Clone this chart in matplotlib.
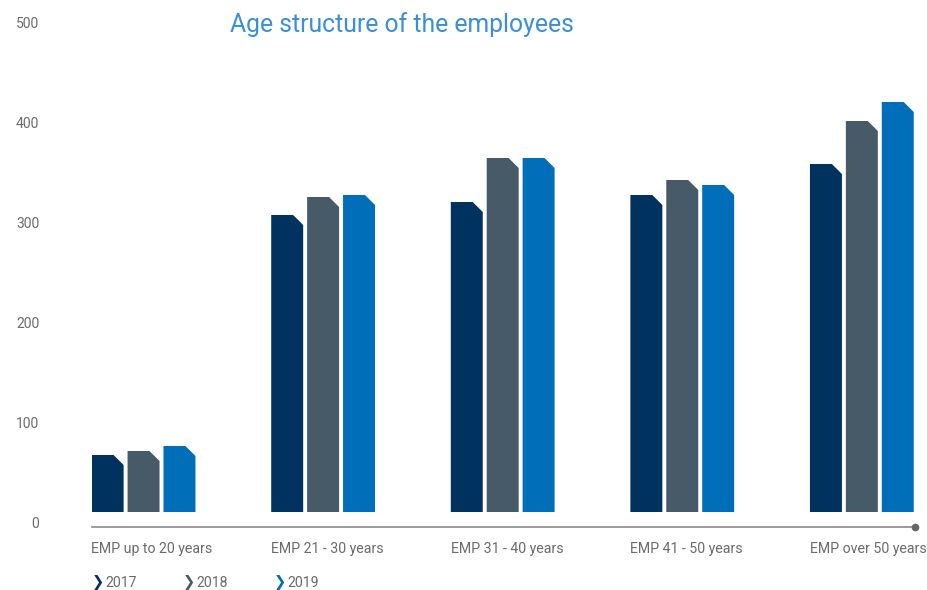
import matplotlib
matplotlib.use("Agg")
import matplotlib.pyplot as plt
import matplotlib.transforms as mtransforms

plt.rcParams["font.family"] = ["Roboto", "DejaVu Sans"]

# ── Data ─────────────────────────────────────────────
categories = ["EMP up to 20 years", "EMP 21 - 30 years", "EMP 31 - 40 years",
              "EMP 41 - 50 years", "EMP over 50 years"]
years = ["2017", "2018", "2019"]
emp_2017 = [57, 297, 310, 317, 348]
emp_2018 = [61, 315, 354, 332, 391]
emp_2019 = [66, 317, 354, 327, 410]
y_ticks = [0, 100, 200, 300, 400, 500]

COLORS = ["#00325f", "#465a68", "#006eb8"]
TITLE_COLOR = "#3a8fd6"
TEXT_GRAY = "#6b6b6b"

W, H = 928, 590
fig = plt.figure(figsize=(W / 100, H / 100), dpi=100)

# axes box laid out in pixels: x 92..915, y 12..512 (top..bottom)
ax = fig.add_axes([92 / W, (H - 512) / H, (915 - 92) / W, 500 / H])
ax.set_ylim(0, 500)
x_min, x_max = -0.287, 4.296
ax.set_xlim(x_min, x_max)
for s in ax.spines.values():
    s.set_visible(False)
ax.set_xticks([])

# ── Bars with a clipped top-right corner ───────────
bar_w = 0.178
pitch = 0.2
cut_x = 0.056
cut_y = 10
series = [emp_2017, emp_2018, emp_2019]
for k, (vals, color) in enumerate(zip(series, COLORS)):
    for i, v in enumerate(vals):
        left = i + (k - 1) * pitch - bar_w / 2
        right = left + bar_w
        xs = [left, left, right - cut_x, right, right]
        ys = [0, v, v, v - cut_y, 0]
        ax.fill(xs, ys, color=color, linewidth=0)

# ── Y tick labels, nudged below their grid value ───
ax.set_yticks(y_ticks)
ax.tick_params(axis="y", length=0, pad=38, labelsize=10, labelcolor=TEXT_GRAY)
offset = mtransforms.ScaledTranslation(0, -10 / 100, fig.dpi_scale_trans)
for lbl in ax.get_yticklabels():
    lbl.set_transform(lbl.get_transform() + offset)

# ── Base line with end dot ─────────────────────────
ax.plot([x_min, x_max], [-15, -15], color="#8a8a8a", linewidth=1.2, clip_on=False)
ax.plot([x_max], [-15], marker="o", markersize=4.5, color="#666666", clip_on=False)

# ── Category labels ────────────────────────────────
for i, name in enumerate(categories):
    ax.text(i - 0.29, -37, name, ha="left", va="center", fontsize=10.2,
            color=TEXT_GRAY, clip_on=False)

# ── Title ──────────────────────────────────────────
fig.text(402 / W, 1 - 25 / H, "Age structure of the employees", ha="center",
         va="center", fontsize=17.8, color=TITLE_COLOR)

# ── Legend: chevron + year ─────────────────────────
legend_x = [92, 183, 274]
for lx, year, color in zip(legend_x, years, COLORS):
    fig.text(lx / W, 1 - 583 / H, "❯", ha="left", va="center",
             fontsize=10.5, fontweight="bold", color=color, family="DejaVu Sans")
    fig.text((lx + 13) / W, 1 - 583 / H, year, ha="left", va="center",
             fontsize=10.2, color=TEXT_GRAY)

fig.savefig("out.png", dpi=100)
